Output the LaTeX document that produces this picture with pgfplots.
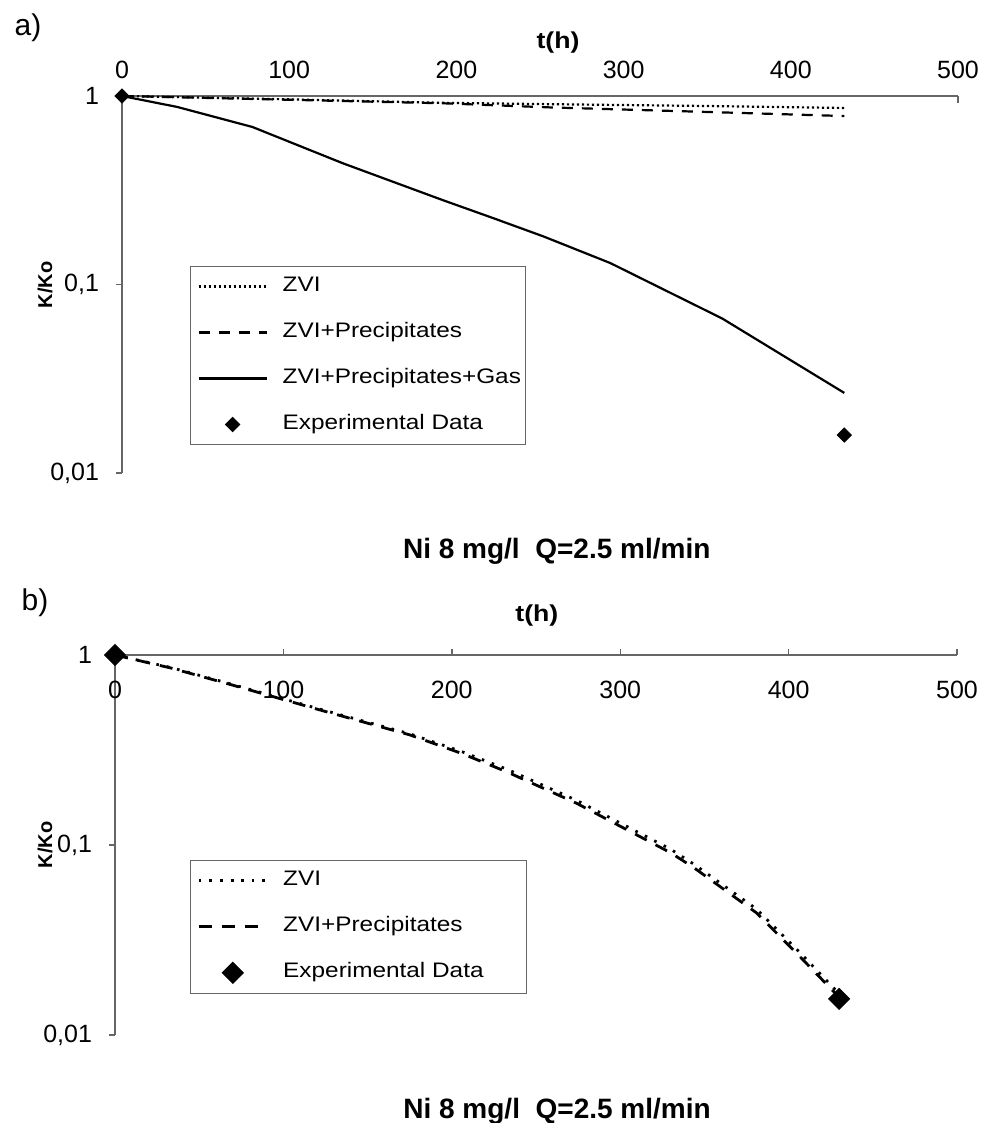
\documentclass[border=0pt]{standalone}
\usepackage{fontspec}
\setmainfont{Liberation Sans}
\newfontfamily\wide[FakeStretch=1.16]{Liberation Sans}
\usepackage{pgfplots}
\pgfplotsset{compat=1.18}
\usepackage{pgfplotstable}

% panel a
\pgfplotstableread{
t k
0 1
100 0.96
192 0.92
256 0.905
350 0.885
432 0.864
}\zviA
\pgfplotstableread{
t k
0 1
100 0.955
192 0.915
256 0.87
350 0.823
432 0.783
}\precA
\pgfplotstableread{
t k
0 1
33 0.875
78 0.685
132 0.44
192 0.28
222 0.225
252 0.18
292 0.13
359 0.066
432 0.0266
}\gasA
\pgfplotstableread{
t k
0 1
432 0.0159
}\expA
% panel b
\pgfplotstableread{
t k
0 1
33 0.86
66 0.715
123 0.515
175 0.385
206 0.31
233 0.25
274 0.172
330 0.095
344 0.079
381 0.046
407 0.027
430 0.0165
}\zviB
\pgfplotstableread{
t k
0 1
33 0.855
66 0.71
123 0.51
175 0.38
206 0.303
233 0.242
274 0.166
330 0.091
344 0.0757
381 0.0439
407 0.0257
430 0.0158
}\precB
\pgfplotstableread{
t k
0 1
430 0.0155
}\expB

\newcommand\legtxt[1]{\makebox[118pt][l]{#1}}

\pgfplotsset{
  kstyle/.style={
    scale only axis,
    xmin=0, xmax=500, ymin=0.01, ymax=1,
    axis x line=top, axis y line=left,
    axis line style={-, draw=black!60, line width=0.7pt},
    xtick={0,100,...,500}, ytick={0.01,0.1,1},
    yticklabels={{0,01},{0,1},{1}},
    yminorticks=false, tick align=outside, major tick length=3pt,
    tick style={draw=black!60, line width=0.7pt},
    /pgf/number format/assume math mode=true,
    ticklabel style={font=\fontsize{12.5}{14}\selectfont},
    yticklabel style={anchor=east, xshift=-5pt},
    xlabel={t(h)}, ylabel={K/Ko},
    xlabel style={font=\wide\bfseries\fontsize{11.5}{13}\selectfont, anchor=center},
    ylabel style={font=\bfseries\fontsize{10}{12}\selectfont, anchor=center},
    title style={font=\bfseries\fontsize{14}{16}\selectfont, anchor=center, yshift=-7.5pt},
    clip=false,
    legend cell align=left,
    legend style={anchor=north west, draw=black!60, line width=0.5pt,
      inner xsep=3.5pt, inner ysep=5pt, row sep=13pt,
      font=\wide\fontsize{10.5}{12}\selectfont,
      nodes={inner sep=0pt, text height=7.5pt, text depth=2.5pt},
      /tikz/every odd column/.append style={column sep=7.5pt}},
  },
  zvi/.style={black, line width=1.1pt, dash pattern=on 1.1pt off 1.4pt},
  prec/.style={black, line width=1.1pt, dash pattern=on 5.5pt off 4.5pt},
  gas/.style={black, line width=1.1pt},
  legend image code/.code={\draw[mark repeat=2,mark phase=2,#1]
      plot coordinates {(0pt,0pt)(17pt,0pt)(34pt,0pt)};},
}

\begin{document}
\begin{tikzpicture}
\path[use as bounding box] (0,0) rectangle (494.5pt,-561.5pt);

\node[font=\fontsize{15}{17}\selectfont] at (14pt,-14pt) {a)};
\node[font=\fontsize{15}{17}\selectfont] at (17.5pt,-301.5pt) {b)};

\begin{axis}[ymode=log, kstyle,
  at={(61pt,-48pt)}, anchor=north west, width=418pt, height=188.5pt,
  xticklabel style={anchor=center, yshift=10pt},
  xtick style={draw=none},
  xlabel style={at={(axis description cs:0.5215,1.143)}},
  ylabel style={at={(axis description cs:-0.0921,0.4987)}},
  title={Ni 8 mg/l\ \ Q=2.5 ml/min},
  title style={at={(axis description cs:0.520,-0.199)}},
  legend style={at={(axis description cs:0.0813,0.549)}},
]
\addplot[zvi] table[x=t,y=k] {\zviA};
\addlegendentry{\legtxt{ZVI}}
\addplot[prec] table[x=t,y=k] {\precA};
\addlegendentry{\legtxt{ZVI+Precipitates}}
\addplot[gas] table[x=t,y=k] {\gasA};
\addlegendentry{\legtxt{ZVI+Precipitates+Gas}}
\addplot[only marks, mark=square*, mark size=2.5pt, mark options={rotate=45, fill=black, draw=black}] table[x=t,y=k] {\expA};
\addlegendentry{\legtxt{Experimental Data}}
\draw[black!60, line width=0.7pt] (axis cs:500,1) -- ([yshift=-3.5pt]axis cs:500,1);
\end{axis}

\begin{axis}[ymode=log, kstyle,
  at={(57.5pt,-327.5pt)}, anchor=north west, width=421pt, height=190pt,
  xticklabel style={anchor=center, yshift=-20.5pt},
  xlabel style={at={(axis description cs:0.501,1.105)}},
  ylabel style={at={(axis description cs:-0.0831,0.5)}},
  title={Ni 8 mg/l\ \ Q=2.5 ml/min},
  title style={at={(axis description cs:0.525,-0.192)}},
  legend style={at={(axis description cs:0.089,0.461)}},
  zvi/.style={black, line width=1.4pt, dash pattern=on 1.3pt off 4pt},
  prec/.style={black, line width=1.4pt, dash pattern=on 6.5pt off 5pt},
]
\addplot[zvi] table[x=t,y=k] {\zviB};
\addlegendentry{\legtxt{ZVI}}
\addplot[prec] table[x=t,y=k] {\precB};
\addlegendentry{\legtxt{ZVI+Precipitates}}
\addplot[only marks, mark=square*, mark size=3.7pt, mark options={rotate=45, fill=black, draw=black}] table[x=t,y=k] {\expB};
\addlegendentry{\legtxt{Experimental Data}}
\end{axis}
\end{tikzpicture}
\end{document}
